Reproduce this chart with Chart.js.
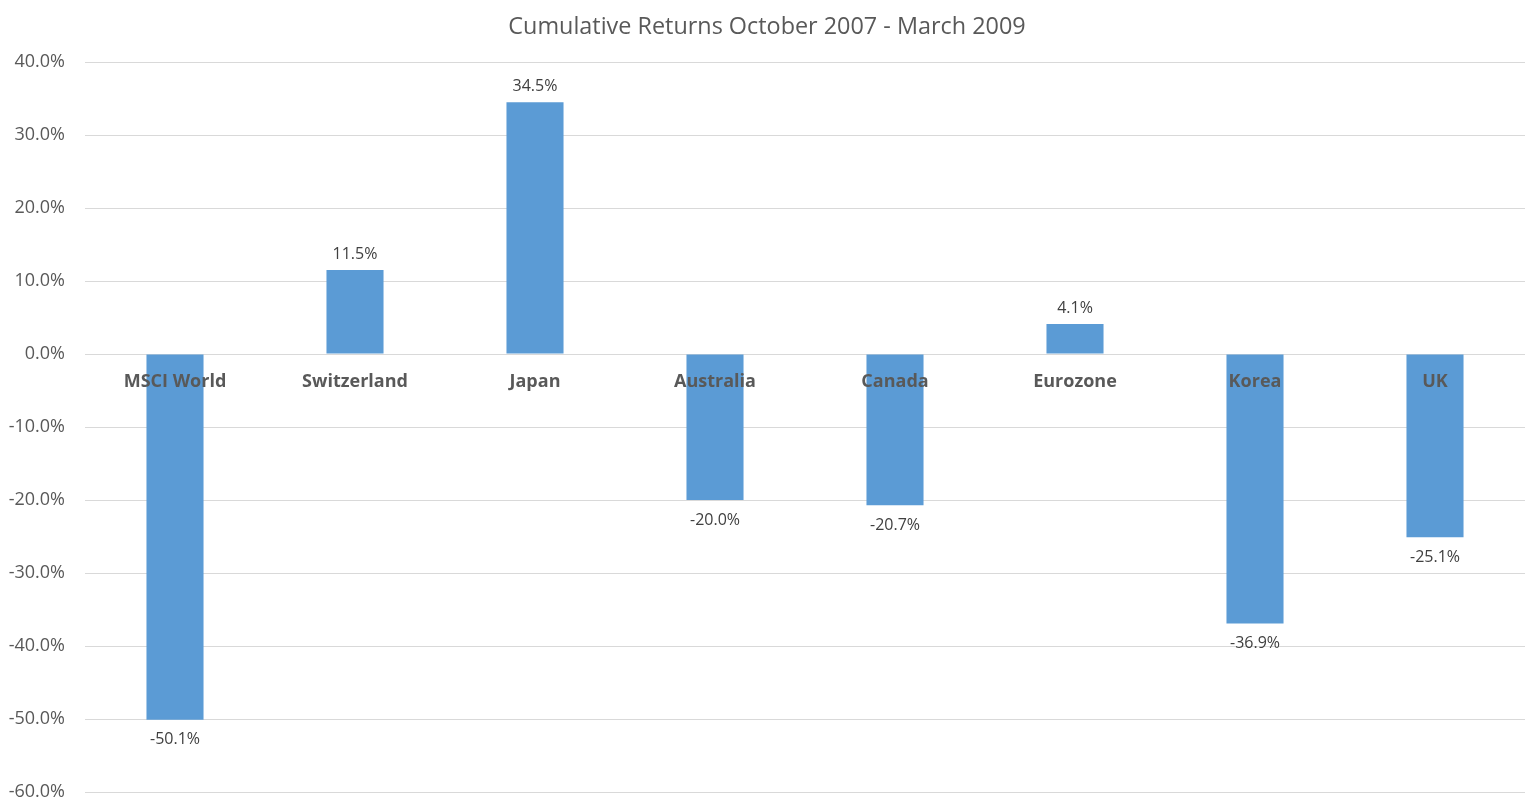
<!DOCTYPE html>
<html>
<head>
<meta charset="utf-8">
<script src="https://cdn.jsdelivr.net/npm/chart.js@4"></script>
<style>
  html, body { margin: 0; padding: 0; background: #fff; }
  #wrap { width: 1534px; height: 812px; }
</style>
</head>
<body>
<div id="wrap"><canvas id="canva"></canvas></div>
<script>
var categories = ['MSCI World', 'Switzerland', 'Japan', 'Australia', 'Canada', 'Eurozone', 'Korea', 'UK'];
var returns = [-50.1, 11.5, 34.5, -20.0, -20.7, 4.1, -36.9, -25.1];
var chartTitle = 'Cumulative Returns October 2007 - March 2009';

// draws the value above / below each bar
var valueLabels = {
  id: 'valueLabels',
  afterDatasetsDraw: function(chart) {
    var ctx = chart.ctx;
    var meta = chart.getDatasetMeta(0);
    ctx.save();
    ctx.font = '16px "Open Sans"';
    ctx.fillStyle = '#404040';
    ctx.textAlign = 'center';
    meta.data.forEach(function(bar, i) {
      var v = returns[i];
      var txt = v.toFixed(1) + '%';
      if (v >= 0) {
        ctx.textBaseline = 'bottom';
        ctx.fillText(txt, bar.x, bar.y - 8);
      } else {
        ctx.textBaseline = 'top';
        ctx.fillText(txt, bar.x, bar.y + 12);
      }
    });
    ctx.restore();
  }
};

new Chart(document.getElementById('canva'), {
  type: 'bar',
  data: {
    labels: categories,
    datasets: [
      {
        label: 'Return',
        backgroundColor: '#5B9BD5',
        data: returns,
        barPercentage: 0.317,
        categoryPercentage: 1.0,
      },
    ],
  },
  options: {
    responsive: true,
    maintainAspectRatio: false,
    animation: false,
    layout: { padding: { left: 9, right: 9, top: 0, bottom: 20 } },
    plugins: {
      legend: { display: false },
      tooltip: { enabled: false },
      title: {
        display: true,
        text: chartTitle,
        color: '#595959',
        font: { family: 'Open Sans', size: 23.4, weight: 'normal' },
        padding: { top: 13, bottom: 21 },
      },
    },
    scales: {
      x: {
        position: { y: 0 },
        afterFit: function(scale) { scale.height = 0; }, // labels sit on the zero line, take no room
        grid: { display: false, drawTicks: false },
        border: { display: false },
        ticks: {
          z: 1, // category names sit on top of the bars
          color: '#595959',
          font: { family: 'Open Sans', size: 18, weight: 'bold' },
          padding: 17,
          maxRotation: 0,
          autoSkip: false,
        },
      },
      y: {
        min: -60,
        max: 40,
        afterFit: function(scale) {
          scale.width = 76;
          scale.paddingTop = 0;
          scale.paddingBottom = 0;
        },
        grid: { color: '#d9d9d9', drawTicks: false, lineWidth: 1 },
        border: { display: false },
        ticks: {
          stepSize: 10,
          color: '#595959',
          font: { family: 'Open Sans', size: 18 },
          padding: 20,
          callback: function(v) { return v.toFixed(1) + '%'; },
        },
      },
    },
  },
  plugins: [valueLabels],
});
</script>
</body>
</html>
